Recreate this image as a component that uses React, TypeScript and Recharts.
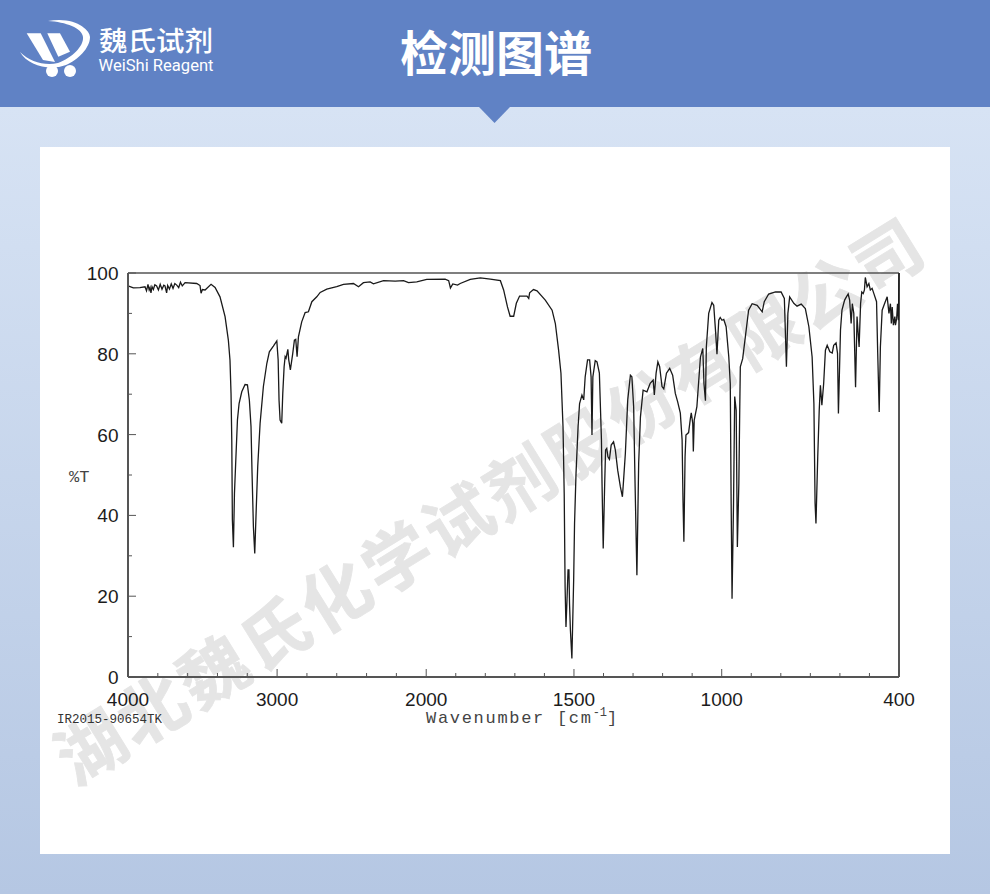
import React from "react";
import { LineChart, Line, XAxis, YAxis, ReferenceLine } from "recharts";

const wavenumbers = [
  4000, 3964, 3920, 3886, 3876, 3866, 3858, 3852, 3846, 3839, 3830, 3820, 3808, 3796, 3784, 3772, 3760, 3752, 3741, 3734,
  3722, 3710, 3698, 3686, 3673, 3660, 3648, 3636, 3617, 3539, 3517, 3510, 3501, 3483, 3443, 3416, 3383, 3349, 3327, 3316,
  3309, 3304, 3300, 3293, 3286, 3277, 3266, 3255, 3237, 3215, 3199, 3186, 3175, 3168, 3159, 3150, 3141, 3130, 3114, 3092,
  3069, 3052, 3025, 3002, 2993, 2987, 2980, 2969, 2962, 2953, 2946, 2940, 2928, 2922, 2911, 2895, 2884, 2875, 2866, 2857,
  2835, 2812, 2790, 2767, 2734, 2711, 2667, 2600, 2555, 2488, 2454, 2421, 2376, 2354, 2286, 2208, 2152, 2119, 2063, 1998,
  1936, 1924, 1918, 1910, 1894, 1885, 1851, 1817, 1783, 1749, 1738, 1725, 1716, 1704, 1695, 1684, 1659, 1653, 1650, 1637,
  1625, 1597, 1574, 1563, 1552, 1544, 1537, 1533, 1530, 1527, 1524, 1520, 1517, 1515, 1512, 1507, 1501, 1498, 1493, 1486,
  1481, 1473, 1467, 1462, 1454, 1447, 1442, 1439, 1436, 1428, 1422, 1414, 1407, 1405, 1401, 1396, 1393, 1389, 1385, 1380,
  1374, 1366, 1360, 1352, 1343, 1336, 1332, 1326, 1318, 1309, 1304, 1298, 1293, 1287, 1281, 1275, 1266, 1253, 1242, 1232,
  1228, 1222, 1216, 1210, 1202, 1196, 1187, 1176, 1166, 1157, 1149, 1140, 1134, 1131, 1128, 1124, 1121, 1112, 1106, 1103,
  1098, 1096, 1093, 1084, 1072, 1064, 1060, 1055, 1052, 1044, 1033, 1027, 1021, 1016, 1010, 1005, 999, 993, 985, 976,
  971, 968, 965, 960, 956, 951, 947, 942, 939, 937, 929, 920, 909, 897, 880, 863, 856, 841, 818, 799,
  788, 781, 776, 770, 756, 745, 731, 717, 705, 694, 688, 684, 681, 675, 670, 666, 661, 655, 649, 643,
  634, 626, 621, 613, 608, 605, 598, 593, 584, 578, 572, 567, 562, 558, 553, 547, 542, 535, 530, 526,
  521, 517, 514, 508, 502, 497, 491, 485, 476, 472, 467, 463, 457, 449, 440, 434, 429, 426, 423, 419,
  414, 412, 408, 405, 402, 400,
];

const transmittance = [
  96.8, 96.3, 96.4, 96.6, 95.6, 97.2, 95.8, 96.4, 95.1, 96.6, 95.9, 97.1, 96.8, 95.8, 97.2, 96.0, 97.0, 96.8, 95.1, 96.9,
  96.0, 97.3, 96.2, 97.4, 97.0, 96.4, 97.7, 96.8, 97.6, 97.4, 96.9, 95.0, 95.9, 95.8, 97.2, 96.4, 94.1, 89.2, 83.4, 78.4,
  70.2, 58.7, 38.9, 32.1, 45.5, 53.7, 63.6, 67.7, 70.6, 72.4, 72.3, 68.5, 62.0, 50.4, 37.2, 30.6, 40.5, 52.1, 62.8, 71.9,
  77.6, 80.5, 81.9, 83.2, 78.5, 68.5, 63.6, 62.8, 70.2, 76.8, 79.3, 78.9, 81.1, 78.5, 76.0, 80.1, 83.4, 83.6, 79.3, 84.2,
  87.9, 90.2, 90.4, 92.9, 94.1, 95.2, 96.0, 96.6, 97.2, 97.4, 96.6, 97.6, 97.8, 97.3, 98.1, 98.0, 98.1, 97.6, 97.8, 98.4,
  98.5, 98.1, 96.3, 97.3, 97.0, 97.4, 98.4, 98.8, 98.5, 98.1, 95.8, 91.6, 89.3, 89.3, 92.5, 94.3, 94.3, 93.7, 95.1, 95.9,
  95.6, 93.3, 90.8, 87.5, 80.9, 75.2, 61.9, 45.4, 22.4, 12.4, 18.2, 26.5, 26.5, 18.2, 11.6, 4.6, 24.0, 38.0, 50.4, 62.0,
  67.7, 69.8, 68.6, 74.3, 78.5, 78.5, 74.3, 59.9, 74.3, 78.3, 78.0, 75.2, 58.7, 47.9, 31.8, 47.9, 56.2, 56.6, 54.5, 53.9,
  57.4, 58.2, 56.2, 51.2, 47.1, 44.6, 48.8, 55.4, 68.6, 74.7, 74.3, 66.9, 47.1, 25.2, 52.9, 64.4, 71.0, 70.6, 72.7, 73.5,
  69.8, 75.2, 78.0, 76.8, 71.9, 71.3, 75.2, 76.4, 74.7, 70.2, 68.1, 65.3, 58.7, 43.8, 33.5, 54.5, 59.9, 60.5, 64.0, 65.4,
  62.8, 55.8, 63.6, 66.9, 79.2, 81.3, 72.6, 68.4, 81.7, 90.0, 92.7, 92.0, 85.8, 79.9, 88.3, 89.0, 88.3, 88.5, 86.7, 79.2,
  72.6, 42.9, 19.4, 42.9, 69.4, 66.0, 32.2, 47.9, 66.0, 76.8, 78.8, 84.2, 90.8, 92.4, 92.0, 90.4, 92.9, 94.8, 95.3, 95.3,
  93.7, 76.8, 90.0, 94.1, 92.5, 91.8, 92.3, 91.2, 86.7, 79.2, 67.7, 43.0, 38.0, 54.5, 66.0, 72.2, 67.3, 72.6, 80.9, 82.1,
  80.5, 80.2, 82.1, 82.7, 80.1, 65.2, 85.9, 90.8, 93.3, 94.1, 94.8, 93.3, 87.5, 92.4, 90.0, 71.7, 89.2, 81.7, 92.4, 95.3,
  94.9, 95.8, 98.9, 96.6, 97.4, 95.8, 96.2, 94.9, 92.9, 80.1, 65.6, 81.7, 90.8, 92.4, 94.1, 90.0, 92.4, 87.5, 91.6, 87.1,
  89.2, 87.1, 88.7, 92.4, 88.3, 100,
];

const xMajorTicks = [4000, 3000, 2000, 1500, 1000, 400];
const xMinorTicks = [3800, 3600, 3400, 3200, 2800, 2600, 2400, 2200, 1900, 1800, 1700, 1600, 1400, 1300, 1200, 1100, 900, 800, 700, 600, 500];
const yTicks = [0, 10, 20, 30, 40, 50, 60, 70, 80, 90, 100];
const yLabelled = [0, 20, 40, 60, 80, 100];

const HIGH_RANGE_FACTOR = 0.5046;
const BREAK_POS = 2000 * HIGH_RANGE_FACTOR;
const toPos = (w: number) => (w >= 2000 ? (4000 - w) * HIGH_RANGE_FACTOR : BREAK_POS + (2000 - w));
const fromPos = (p: number) => (p <= BREAK_POS ? 4000 - p / HIGH_RANGE_FACTOR : 2000 - (p - BREAK_POS));
const MAX_POS = toPos(400);

const spectrum = wavenumbers.map((w, i) => ({ pos: toPos(w), t: transmittance[i] }));
const xTicks = [...xMajorTicks, ...xMinorTicks].map(toPos).sort((a, b) => a - b);

const AXIS = "#555";
const TEXT = "#1c1c1c";
const SANS = "'Liberation Sans', Arial, sans-serif";
const MONO = "'Liberation Mono', monospace";
const CJK = "'Noto Sans CJK SC', sans-serif";

const PLOT_BOTTOM = 677;
const PLOT_LEFT = 128;

const XTick = ({ x, payload }: any) => {
  const w = Math.round(fromPos(payload.value));
  const major = xMajorTicks.includes(w);
  return (
    <g>
      <line x1={x} x2={x} y1={PLOT_BOTTOM} y2={PLOT_BOTTOM - (major ? 8 : 4)} stroke={AXIS} strokeWidth={1} />
      {major && (
        <text x={x} y={705.5} textAnchor="middle" fontFamily={SANS} fontSize={19} fill={TEXT}>
          {w}
        </text>
      )}
    </g>
  );
};

const YTick = ({ y, payload }: any) => {
  const major = yLabelled.includes(payload.value);
  return (
    <g>
      <line x1={PLOT_LEFT} x2={PLOT_LEFT + (major ? 8 : 4)} y1={y} y2={y} stroke={AXIS} strokeWidth={1} />
      {major && (
        <text x={118.5} y={y + 7} textAnchor="end" fontFamily={SANS} fontSize={19} fill={TEXT}>
          {payload.value}
        </text>
      )}
    </g>
  );
};

export default function App() {
  return (
    <div
      style={{
        position: "absolute",
        left: 0,
        top: 0,
        width: 990,
        height: 894,
        overflow: "hidden",
        background: "linear-gradient(180deg, #d7e3f4 107px, #b5c7e3 894px)",
      }}
    >
      <svg width={990} height={894} style={{ position: "absolute", left: 0, top: 0 }}>
        <rect x={0} y={0} width={990} height={107} fill="#6082c5" />
        <polygon points="479,107 510,107 494.5,123" fill="#6082c5" />
        <rect x={40} y={147} width={910} height={707} fill="#ffffff" />

        {/* logo */}
        <polygon points="26.7,33.3 40.7,33.3 55,62 43,60" fill="#fff" />
        <polygon points="47.3,33.3 60,33.3 70,51.7 58.3,56.7" fill="#fff" />
        <path d="M48,21 C75,16 90,30 90,37 C90,48 78,60 66,65 C50,71 28,66 20,52 C30,62 45,66 58,63 C72,58 84,46 83,37 C82,28 66,22 48,21 Z" fill="#fff" />
        <ellipse cx={52} cy={71} rx={6} ry={6} fill="#fff" />
        <ellipse cx={70} cy={71} rx={6} ry={6} fill="#fff" />
        <text x={99} y={50.5} fontFamily={CJK} fontWeight={500} fontSize={27.5} fill="#fff" textLength={114} lengthAdjust="spacingAndGlyphs">
          魏氏试剂
        </text>
        <text x={98.5} y={71} fontFamily="Roboto, sans-serif" fontSize={16.5} fill="#fff" textLength={115} lengthAdjust="spacingAndGlyphs">
          WeiShi Reagent
        </text>
        <text x={496} y={71} textAnchor="middle" fontFamily={CJK} fontWeight={700} fontSize={48} fill="#fff">
          检测图谱
        </text>

        {/* watermark */}
        <text
          x={504}
          y={522}
          textAnchor="middle"
          transform="rotate(-31.7 504 522)"
          fontFamily={CJK}
          fontWeight={700}
          fontSize={68}
          letterSpacing={4}
          fill="#e5e5e5"
          stroke="#e5e5e5"
          strokeWidth={0.8}
        >
          湖北魏氏化学试剂股份有限公司
        </text>
      </svg>

      <div style={{ position: "absolute", left: 0, top: 0 }}>
        <LineChart
          width={990}
          height={894}
          data={spectrum}
          margin={{ top: 273, right: 91, bottom: 187, left: 68 }}
        >
          <XAxis
            type="number"
            dataKey="pos"
            domain={[0, MAX_POS]}
            ticks={xTicks}
            interval={0}
            height={30}
            stroke={AXIS}
            strokeWidth={2}
            tickLine={false}
            tick={<XTick />}
          />
          <YAxis
            type="number"
            domain={[0, 100]}
            ticks={yTicks}
            interval={0}
            width={60}
            stroke={AXIS}
            strokeWidth={2}
            tickLine={false}
            tick={<YTick />}
          />
          <ReferenceLine y={100} stroke={AXIS} strokeWidth={1.5} />
          <ReferenceLine x={MAX_POS} stroke={AXIS} strokeWidth={2} />
          <Line
            type="linear"
            dataKey="t"
            stroke="#1a1a1a"
            strokeWidth={1.3}
            dot={false}
            activeDot={false}
            isAnimationActive={false}
          />
        </LineChart>
      </div>

      <svg width={990} height={894} style={{ position: "absolute", left: 0, top: 0, pointerEvents: "none" }}>
        <text x={69} y={482} fontFamily={MONO} fontSize={17} fill="#444">
          %T
        </text>
        <text x={57} y={723} fontFamily={MONO} fontSize={12.5} fill="#333">
          IR2015-90654TK
        </text>
        <text x={426} y={723} fontFamily={MONO} fontSize={17} letterSpacing={1.7} fill="#444">
          Wavenumber [cm
          <tspan dy={-7} fontSize={12} letterSpacing={0}>-1</tspan>
          <tspan dy={7} letterSpacing={0}>]</tspan>
        </text>
      </svg>
    </div>
  );
}
